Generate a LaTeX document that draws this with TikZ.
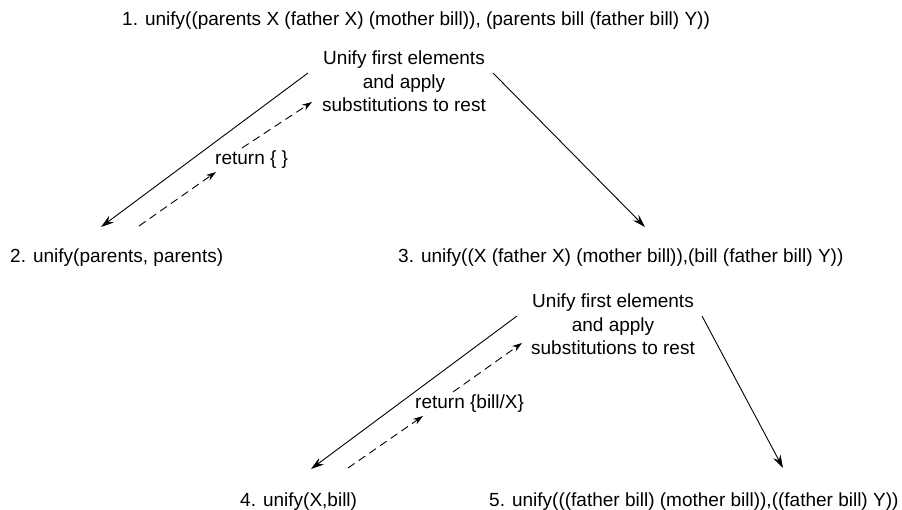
\documentclass[tikz,border=0pt]{standalone}
\usepackage{fontspec}
\setmainfont{Liberation Sans}
\usetikzlibrary{arrows.meta}
\begin{document}
\begin{tikzpicture}[x=1pt,y=-1pt,
  lbl/.style={font=\fontsize{19}{23.5}\selectfont, inner sep=0pt, anchor=base west},
  textbox/.style={font=\fontsize{19}{23.5}\selectfont, inner sep=0pt, align=center, anchor=north},
  solidarrow/.style={line width=0.9pt, -{Stealth[length=13pt,width=8pt]}},
  dasharrow/.style={line width=0.9pt, dash pattern=on 8pt off 5pt, -{Stealth[length=10pt,width=6.5pt]}}]
\useasboundingbox (0,0) rectangle (902,510);

% texts
\node[lbl] (t1) at (122,26) {1. unify((parents X (father X) (mother bill)), (parents bill (father bill) Y))};
\node[textbox] (b1) at (404,51) {Unify first elements\\and apply\\substitutions to rest};
\node[lbl] (r1) at (215,165) {return \{ \}};
\node[lbl] (t2) at (10,263) {2. unify(parents, parents)};
\node[lbl] (t3) at (398,263) {3. unify((X (father X) (mother bill)),(bill (father bill) Y))};
\node[textbox] (b2) at (613,294) {Unify first elements\\and apply\\substitutions to rest};
\node[lbl] (r2) at (415,408) {return \{bill/X\}};
\node[lbl] (t4) at (240,506) {4. unify(X,bill)};
\node[lbl] (t5) at (489,506) {5. unify(((father bill) (mother bill)),((father bill) Y))};

% connector end points
\coordinate (a1s) at (308,73);  \coordinate (a1e) at (101,227);
\coordinate (a2s) at (493,73);  \coordinate (a2e) at (645,227);
\coordinate (d1a) at (139,226); \coordinate (d1b) at (216,172);
\coordinate (d1c) at (242,148); \coordinate (d1d) at (312,102);
\coordinate (a3s) at (517,316); \coordinate (a3e) at (311,469);
\coordinate (a4s) at (702,316); \coordinate (a4e) at (783,468);
\coordinate (d2a) at (348,468); \coordinate (d2b) at (423,416);
\coordinate (d2c) at (453,392); \coordinate (d2d) at (522,343);

\draw[solidarrow] (a1s) -- (a1e);
\draw[solidarrow] (a2s) -- (a2e);
\draw[dasharrow] (d1a) -- (d1b);
\draw[dasharrow] (d1c) -- (d1d);
\draw[solidarrow] (a3s) -- (a3e);
\draw[solidarrow] (a4s) -- (a4e);
\draw[dasharrow] (d2a) -- (d2b);
\draw[dasharrow] (d2c) -- (d2d);
\end{tikzpicture}
\end{document}
